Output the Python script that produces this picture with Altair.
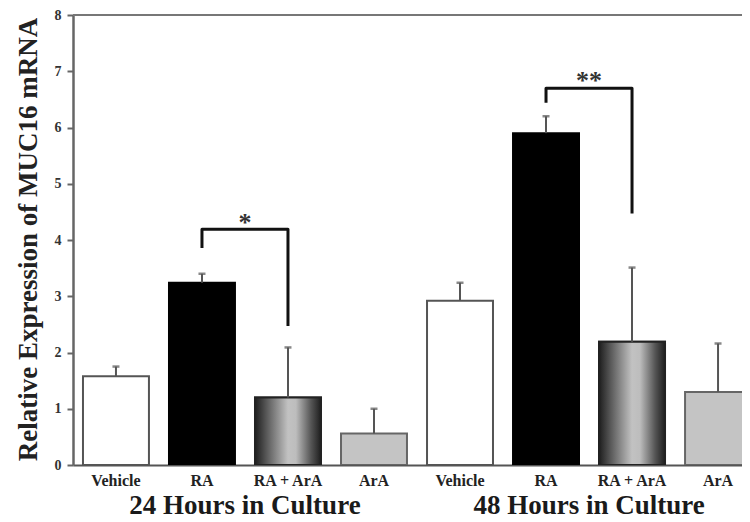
import altair as alt
import pandas as pd

groups = ["24"] * 4 + ["48"] * 4
treatments = ["Vehicle", "RA", "RA + ArA", "ArA"] * 2
means = [1.58, 3.24, 1.20, 0.56, 2.92, 5.90, 2.19, 1.30]
err_tops = [1.75, 3.40, 2.09, 1.00, 3.24, 6.20, 3.51, 2.16]

group_titles = ["24 Hours in Culture", "48 Hours in Culture"]
star_labels = ["*", "**"]
bracket_left_low = [3.86, 6.44]
bracket_top = [4.19, 6.70]
bracket_right_low = [2.47, 4.47]
star_y = [4.30, 6.82]

keys = [f"{t}|{g}" for t, g in zip(treatments, groups)]
bars = pd.DataFrame({"key": keys, "treatment": treatments, "group": groups,
                     "mean": means, "err": err_tops})

brk_rows = []
for i, g in enumerate(["24", "48"]):
    pts = [(f"RA|{g}", bracket_left_low[i]), (f"RA|{g}", bracket_top[i]),
           (f"RA + ArA|{g}", bracket_top[i]), (f"RA + ArA|{g}", bracket_right_low[i])]
    for j, (k, v) in enumerate(pts):
        brk_rows.append({"key": k, "v": v, "grp": g, "ord": j})
brackets = pd.DataFrame(brk_rows)

stars = pd.DataFrame({"key": ["RA|24", "RA|48"], "label": star_labels, "v": star_y})
titles = pd.DataFrame({"key": ["RA|24", "RA|48"], "label": group_titles})
top = pd.DataFrame({"v": [8]})

FONT = "Liberation Serif"
x_scale = alt.Scale(domain=keys, range=[0, 688], paddingInner=0.233, paddingOuter=0.116)
y_scale = alt.Scale(domain=[0, 8], nice=False)

x_enc = alt.X("key:N", sort=keys, scale=x_scale,
              axis=alt.Axis(title=None, labelAngle=0, ticks=False, labelExpr="split(datum.label, '|')[0]",
                            labelFont=FONT, labelFontWeight="bold", labelFontSize=16, labelColor="#222",
                            labelPadding=7, domainColor="#555", domainWidth=2))
y_enc = alt.Y("mean:Q", scale=y_scale,
              axis=alt.Axis(values=list(range(9)), format="d", grid=False, title="Relative Expression of MUC16 mRNA",
                            titleFont=FONT, titleFontWeight="bold", titleFontSize=27, titleColor="#222",
                            titleX=-45, titleY=224, titleAngle=270, titleAlign="center", titleBaseline="middle",
                            labelFont=FONT, labelFontWeight="bold", labelFontSize=14, labelColor="#333",
                            labelPadding=6, tickSize=6, tickColor="#666", tickWidth=2,
                            domainColor="#666", domainWidth=2.5))

base = alt.Chart(bars)

bar_layer = base.mark_bar(strokeWidth=2, clip=True).encode(
    x=x_enc, y=y_enc,
    fill=alt.Fill("treatment:N", scale=alt.Scale(domain=["Vehicle", "RA", "RA + ArA", "ArA"],
                                                 range=["#ffffff", "#000000", "#888888", "#c4c4c4"]), legend=None),
    stroke=alt.Stroke("treatment:N", scale=alt.Scale(domain=["Vehicle", "RA", "RA + ArA", "ArA"],
                                                     range=["#555555", "#000000", "#222222", "#666666"]), legend=None),
)

grad = alt.LinearGradient(gradient="linear", x1=0, x2=1, y1=0, y2=0, stops=[
    alt.GradientStop(offset=0, color="#1e1e1e"),
    alt.GradientStop(offset=0.18, color="#5a5a5a"),
    alt.GradientStop(offset=0.5, color="#c2c2c2"),
    alt.GradientStop(offset=0.62, color="#bdbdbd"),
    alt.GradientStop(offset=0.85, color="#555555"),
    alt.GradientStop(offset=1, color="#1e1e1e"),
])
grad_layer = base.transform_filter(alt.datum.treatment == "RA + ArA").mark_bar(
    fill=grad, stroke="#222222", strokeWidth=2, clip=True).encode(x=alt.X("key:N", sort=keys), y="mean:Q")

err_rule = base.mark_rule(color="#555555", strokeWidth=2).encode(
    x=alt.X("key:N", sort=keys), y="mean:Q", y2="err:Q")
err_cap = base.mark_tick(color="#555555", size=7, thickness=2.5).encode(
    x=alt.X("key:N", sort=keys), y="err:Q")

top_rule = alt.Chart(top).mark_rule(color="#777777", strokeWidth=2).encode(
    y="v:Q", x=alt.value(0), x2=alt.value(669))

brk_layer = alt.Chart(brackets).mark_line(color="#111111", strokeWidth=3, strokeJoin="round", strokeCap="butt").encode(
    x=alt.X("key:N", sort=keys), y="v:Q", detail="grp:N", order="ord:Q")

star_layer = alt.Chart(stars).mark_text(font=FONT, fontWeight="bold", fontSize=26, color="#333333",
                                        dx=43, baseline="middle").encode(
    x=alt.X("key:N", sort=keys), y="v:Q", text="label:N")

title_layer = alt.Chart(titles).mark_text(font=FONT, fontWeight="bold", fontSize=27, color="#1a1a1a",
                                          dx=43, baseline="middle").encode(
    x=alt.X("key:N", sort=keys), y=alt.value(491), text="label:N")

chart = alt.layer(top_rule, bar_layer, grad_layer, err_rule, err_cap, brk_layer, star_layer, title_layer).properties(
    width=669, height=450,
    autosize=alt.AutoSizeParams(type="none"),
    padding={"left": 65, "top": 7, "right": 0, "bottom": 56},
).configure_view(stroke=None).configure(background="white")

chart.save("out.html", embed_options={"renderer": "svg", "actions": False})
